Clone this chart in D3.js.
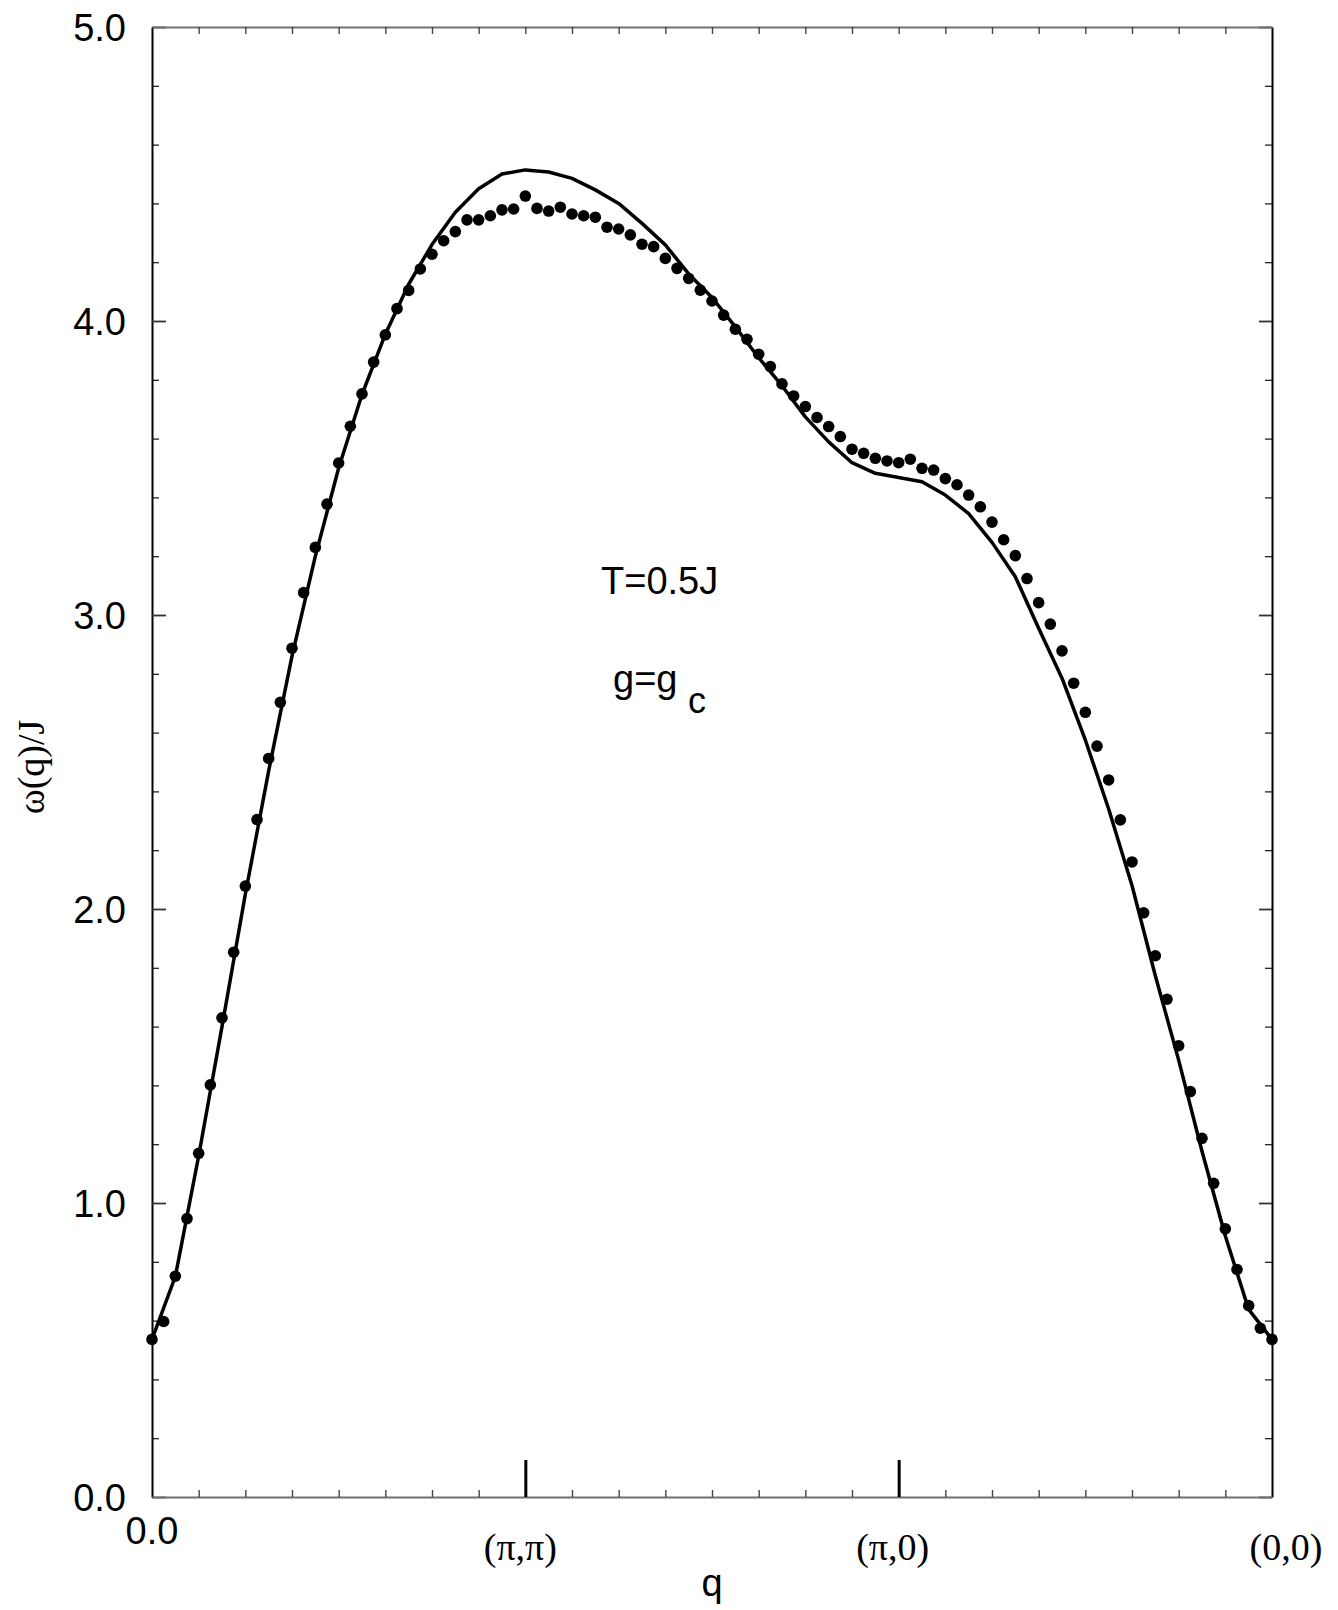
<!DOCTYPE html>
<html>
<head>
<meta charset="utf-8">
<script src="https://cdn.jsdelivr.net/npm/d3@7"></script>
<style>
  html, body { margin: 0; padding: 0; background: #fff; }
  svg { display: block; }
  .sans { font-family: "Liberation Sans", Arial, Helvetica, sans-serif; }
  .serif { font-family: "Liberation Serif", "Times New Roman", Times, serif; }
</style>
</head>
<body>
<svg id="chart" width="1338" height="1610"></svg>
<script>
// ---------------- data ----------------
// x-axis: path through the Brillouin zone, in grid units 0..24
const qDomain = [0, 24];
const qTickLabels = [
  { q: 0,  label: "0.0",   font: "sans" },
  { q: 8,  label: "(π,π)", font: "serif" },
  { q: 16, label: "(π,0)", font: "serif" },
  { q: 24, label: "(0,0)", font: "serif" }
];
const majorQ = [8, 16];
const yTickLabels = ["0.0", "1.0", "2.0", "3.0", "4.0", "5.0"];
const yDomain = [0, 5];

// spacing of the two series along q
const dotStep = 0.25;
const lineStep = 0.5;

// filled circles (one every 0.25 q units)
const dotOmega = [
  0.536, 0.597, 0.751, 0.947, 1.169, 1.402, 1.630, 1.853, 2.078, 2.304,
  2.512, 2.703, 2.887, 3.076, 3.230, 3.377, 3.517, 3.642, 3.752, 3.860,
  3.953, 4.042, 4.104, 4.177, 4.227, 4.273, 4.304, 4.344, 4.344, 4.358,
  4.378, 4.381, 4.425, 4.383, 4.374, 4.387, 4.364, 4.358, 4.353, 4.319,
  4.313, 4.293, 4.261, 4.253, 4.213, 4.179, 4.145, 4.105, 4.068, 4.020,
  3.972, 3.938, 3.887, 3.845, 3.786, 3.745, 3.709, 3.672, 3.641, 3.607,
  3.564, 3.550, 3.533, 3.524, 3.518, 3.530, 3.499, 3.493, 3.464, 3.443,
  3.408, 3.368, 3.316, 3.256, 3.202, 3.124, 3.042, 2.969, 2.878, 2.768,
  2.669, 2.554, 2.439, 2.303, 2.160, 1.987, 1.841, 1.693, 1.535, 1.379,
  1.220, 1.067, 0.912, 0.774, 0.651, 0.574, 0.536
];

// solid line (one vertex every 0.5 q units)
const lineOmega = [
  0.536, 0.750, 1.160, 1.600, 2.050, 2.470, 2.860, 3.200, 3.500, 3.750,
  3.955, 4.125, 4.260, 4.370, 4.450, 4.500, 4.514, 4.507, 4.485, 4.446,
  4.400, 4.332, 4.259, 4.160, 4.080, 3.980, 3.875, 3.780, 3.674, 3.589,
  3.518, 3.482, 3.468, 3.453, 3.408, 3.345, 3.247, 3.130, 2.955, 2.785,
  2.575, 2.340, 2.080, 1.773, 1.486, 1.176, 0.888, 0.638, 0.536
];

// ---------------- drawing ----------------
const svg = d3.select("#chart");
const L = 152, R = 1272, T = 27, B = 1497;

const x = d3.scaleLinear().domain(qDomain).range([L, R]);
const y = d3.scaleLinear().domain(yDomain).range([B, T]);

const greyCol = "#707070";

// minor / major tick values
const yMajor = d3.range(yDomain[0], yDomain[1] + 0.001, 1);
const yMinor = d3.range(0, 26).map(k => k / 5).filter(v => Math.abs(v - Math.round(v)) > 1e-6);
const qMinor = d3.range(1, 24).filter(v => !majorQ.includes(v));
const qAll = d3.range(1, 24);

function styleAxis(g, col, w) {
  g.select(".domain").attr("stroke", col).attr("stroke-width", w);
  g.selectAll(".tick text").remove();
}

// left axis: minor ticks
svg.append("g").attr("transform", `translate(${L},0)`)
  .call(d3.axisLeft(y).tickValues(yMinor).tickSizeInner(-7).tickSizeOuter(0).tickFormat(""))
  .call(g => { styleAxis(g, "#000", 2); g.selectAll(".tick line").attr("stroke", "#111").attr("stroke-width", 1.2); });
// left axis: major ticks
svg.append("g").attr("transform", `translate(${L},0)`)
  .call(d3.axisLeft(y).tickValues(yMajor).tickSizeInner(-14).tickSizeOuter(0).tickFormat(""))
  .call(g => { g.select(".domain").remove(); g.selectAll(".tick line").attr("stroke", "#333").attr("stroke-width", 1.8); });

// right axis
svg.append("g").attr("transform", `translate(${R},0)`)
  .call(d3.axisRight(y).tickValues(yMinor).tickSizeInner(-7).tickSizeOuter(0).tickFormat(""))
  .call(g => { styleAxis(g, "#000", 2); g.selectAll(".tick line").attr("stroke", "#111").attr("stroke-width", 1.2); });
svg.append("g").attr("transform", `translate(${R},0)`)
  .call(d3.axisRight(y).tickValues(yMajor).tickSizeInner(-13).tickSizeOuter(0).tickFormat(""))
  .call(g => { g.select(".domain").remove(); g.selectAll(".tick line").attr("stroke", "#333").attr("stroke-width", 1.8); });

// top axis
svg.append("g").attr("transform", `translate(0,${T})`)
  .call(d3.axisTop(x).tickValues(qAll).tickSizeInner(-7).tickSizeOuter(0).tickFormat(""))
  .call(g => { styleAxis(g, greyCol, 2); g.selectAll(".tick line").attr("stroke", "#444").attr("stroke-width", 1.4); });

// bottom axis
svg.append("g").attr("transform", `translate(0,${B})`)
  .call(d3.axisBottom(x).tickValues(qMinor).tickSizeInner(-7).tickSizeOuter(0).tickFormat(""))
  .call(g => { styleAxis(g, greyCol, 2); g.selectAll(".tick line").attr("stroke", "#444").attr("stroke-width", 1.4); });
svg.append("g").attr("transform", `translate(0,${B})`)
  .call(d3.axisBottom(x).tickValues(majorQ).tickSizeInner(-37).tickSizeOuter(0).tickFormat(""))
  .call(g => { g.select(".domain").remove(); g.selectAll(".tick line").attr("stroke", "#000").attr("stroke-width", 3); });

// y tick labels
svg.append("g").selectAll("text").data(yTickLabels).join("text")
  .attr("class", "sans")
  .attr("x", L - 26)
  .attr("y", (d, i) => y(yMajor[i]))
  .attr("dy", "0.36em")
  .attr("text-anchor", "end")
  .attr("font-size", 38)
  .text(d => d);

// x tick labels
const xLabelShift = { 0: 0, 8: -5, 16: -6, 24: 14 };
svg.append("g").selectAll("text").data(qTickLabels).join("text")
  .attr("class", d => d.font)
  .attr("x", d => x(d.q) + xLabelShift[d.q])
  .attr("y", d => d.font === "sans" ? B + 47 : B + 63)
  .attr("text-anchor", "middle")
  .attr("font-size", d => d.font === "sans" ? 38 : 38)
  .text(d => d.label);

// axis titles
svg.append("text").attr("class", "sans")
  .attr("x", (L + R) / 2).attr("y", 1596)
  .attr("text-anchor", "middle").attr("font-size", 38)
  .text("q");

svg.append("text").attr("class", "serif")
  .attr("transform", `translate(44,${767}) rotate(-90)`)
  .attr("text-anchor", "middle").attr("font-size", 38)
  .text("ω(q)/J");

// annotations
svg.append("text").attr("class", "sans")
  .attr("x", 601).attr("y", 594).attr("font-size", 38)
  .text("T=0.5J");
svg.append("text").attr("class", "sans")
  .attr("x", 613).attr("y", 692).attr("font-size", 38)
  .text("g=g");
svg.append("text").attr("class", "sans")
  .attr("x", 688).attr("y", 713).attr("font-size", 36)
  .text("c");

// solid line
const line = d3.line()
  .x((d, i) => x(i * lineStep))
  .y(d => y(d));
svg.append("path")
  .datum(lineOmega)
  .attr("d", line)
  .attr("fill", "none")
  .attr("stroke", "#000")
  .attr("stroke-width", 3.5)
  .attr("stroke-linejoin", "round");

// dots
svg.append("g").selectAll("circle").data(dotOmega).join("circle")
  .attr("cx", (d, i) => x(i * dotStep))
  .attr("cy", d => y(d))
  .attr("r", 5.8)
  .attr("fill", "#000");
</script>
</body>
</html>
